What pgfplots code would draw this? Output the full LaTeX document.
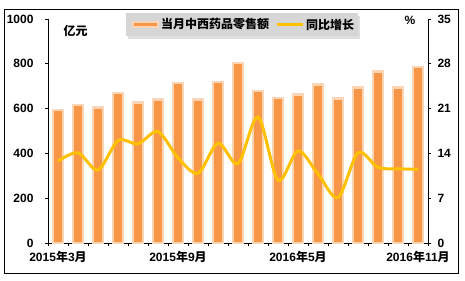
\documentclass[border=0pt]{standalone}
\usepackage{pgfplots}
\pgfplotsset{compat=1.18}
\usepackage{fontspec}
\setmainfont{Liberation Sans}
\newfontfamily\cjk{Noto Sans CJK SC}
\usetikzlibrary{shadows}
\definecolor{barfill}{HTML}{F79646}
\definecolor{barline}{HTML}{FBD5B5}
\definecolor{lineyel}{HTML}{FFC000}
\newcommand{\lbl}{\bfseries\fontsize{12bp}{14bp}\selectfont}
\newcommand{\ny}[2]{#1{\cjk 年}#2{\cjk 月}}
\pgfplotsset{/pgf/number format/assume math mode=true, /pgf/number format/1000 sep={}}
\begin{document}
\begin{tikzpicture}
\useasboundingbox (-48bp,-38bp) rectangle (417bp,243bp);
\fill[white] (-48bp,-38bp) rectangle (417bp,243bp);
\draw[black, line width=0.9bp] (-44bp,-30bp) rectangle (410bp,234bp);
\begin{axis}[
  at={(0,0)}, anchor=south west, scale only axis,
  width=380bp, height=224bp,
  xmin=-0.5, xmax=18.5, ymin=0, ymax=1000,
  axis y line*=left, axis x line*=bottom,
  axis line style={black, line width=0.8bp},
  ytick={0,200,...,1000},
  xtick={-0.5,0.5,...,18.5}, xticklabels={},
  extra x ticks={0,6,12,18},
  extra x tick labels={\ny{2015}{3},\ny{2015}{9},\ny{2016}{5},\ny{2016}{11}},
  extra x tick style={major tick length=0pt},
  tick style={black, line width=0.6bp},
  major tick length=3bp, tick align=outside,
  ticklabel style={font=\lbl},
  xticklabel style={yshift=-5bp},
  yticklabel style={xshift=-8bp},
  ybar, bar width=10.3bp,
  clip=false,
]
\addplot[fill=barfill, draw=barline, line width=2.3bp] coordinates {
(0,595) (1,615) (2,605) (3,670) (4,627) (5,640) (6,715) (7,640) (8,720) (9,803)
(10,680) (11,648) (12,663) (13,708) (14,645) (15,694) (16,765) (17,694) (18,785)};
\end{axis}
\begin{axis}[
  at={(0,0)}, anchor=south west, scale only axis,
  width=380bp, height=224bp,
  xmin=-0.5, xmax=18.5, ymin=0, ymax=35,
  axis y line*=right, axis x line=none,
  axis line style={black, line width=0.8bp},
  ytick={0,7,...,35},
  tick style={black, line width=0.6bp},
  major tick length=3bp, tick align=outside,
  ticklabel style={font=\lbl},
  yticklabel style={xshift=3bp},
  clip=false,
]
\addplot[lineyel, line width=3bp, smooth, no marks] coordinates {
(0,12.8) (1,14.1) (2,11.4) (3,16.0) (4,15.5) (5,17.4) (6,13.3) (7,10.9) (8,15.6) (9,12.4)
(10,19.7) (11,9.8) (12,14.4) (13,10.8) (14,7.1) (15,14.1) (16,11.8) (17,11.6) (18,11.5)};
\end{axis}
\node[font=\lbl\cjk] at (27.5bp,212bp) {亿元};
\node[font=\lbl] at (362bp,223bp) {\%};
% legend
\path[fill=black!16, drop shadow={shadow xshift=2bp, shadow yshift=-3bp, opacity=0.25}] (78bp,207bp) rectangle (310bp,230bp);
\draw[fill=barfill, draw=barline, line width=2.3bp] (85bp,216bp) rectangle (110bp,221bp);
\node[font=\lbl\cjk, anchor=west, inner sep=0pt] at (113bp,218.5bp) {当月中西药品零售额};
\draw[lineyel, line width=3bp] (229bp,218.5bp) -- (255bp,218.5bp);
\node[font=\lbl\cjk, anchor=west, inner sep=0pt] at (258bp,218.5bp) {同比增长};
\end{tikzpicture}
\end{document}
